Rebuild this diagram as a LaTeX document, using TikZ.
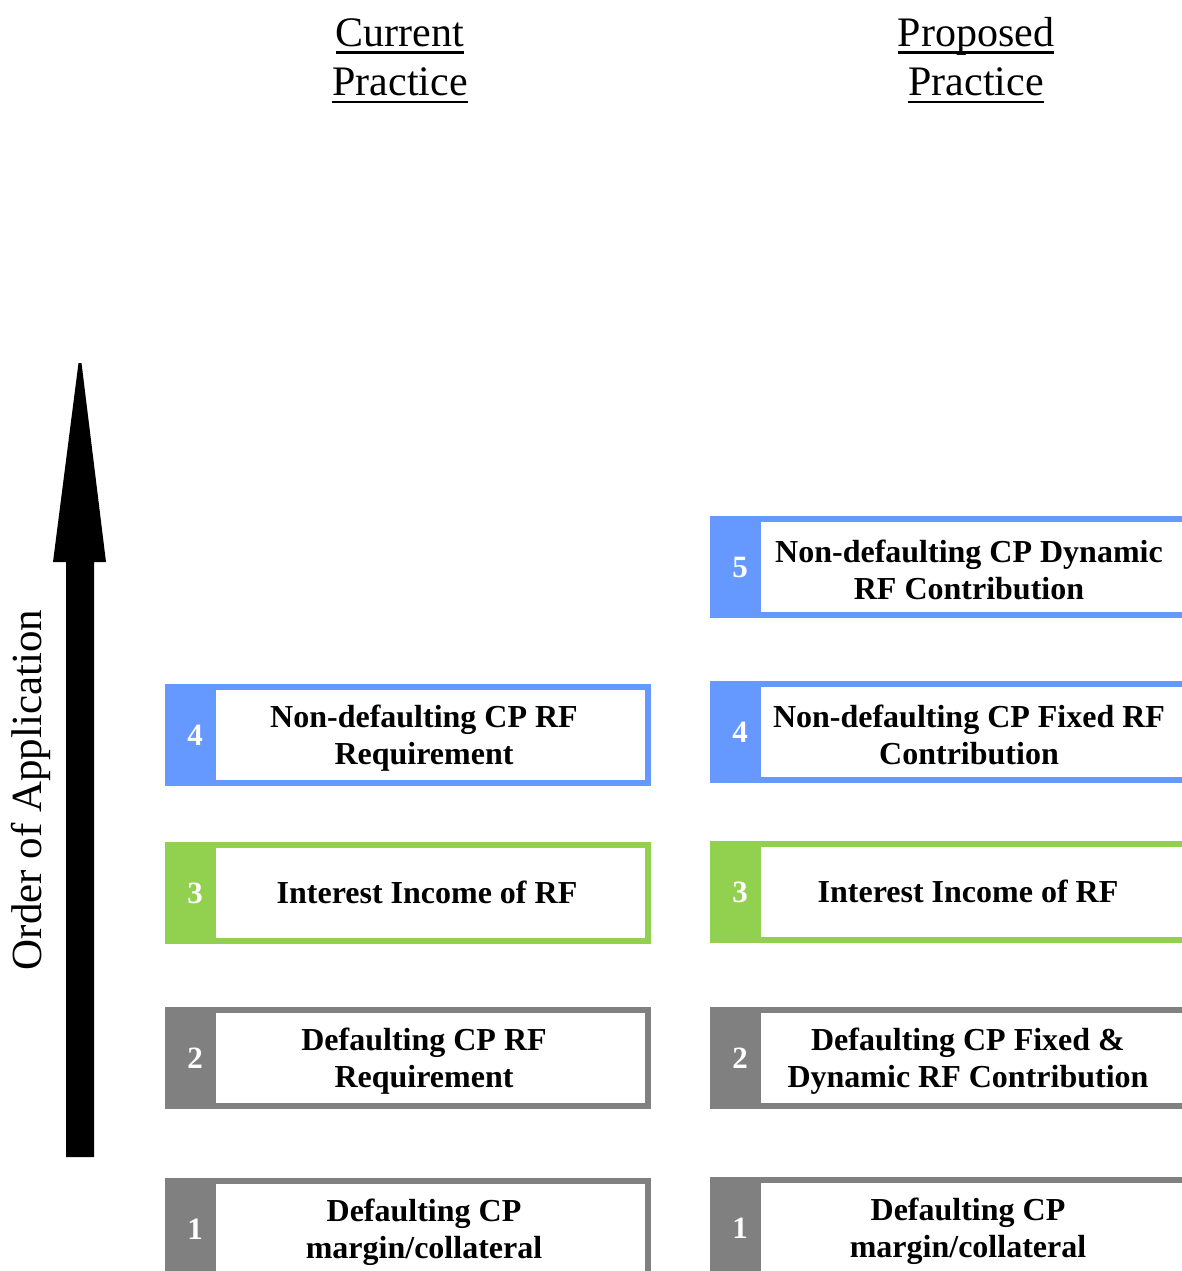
\documentclass[tikz,border=0pt]{standalone}
\usepackage{fontspec}
\setmainfont{Liberation Serif}

\definecolor{rfblue}{HTML}{6699FF}
\definecolor{rfgreen}{HTML}{92D050}
\definecolor{rfgray}{HTML}{808080}

% underlined heading word with a fixed rule position
\newsavebox\ulbox
\newcommand\ulword[1]{\sbox\ulbox{#1}\rlap{\rule[-7pt]{\wd\ulbox}{2.5pt}}\usebox\ulbox}

\tikzset{
  numtext/.style={text=white, inner sep=0pt, font=\fontsize{31}{31}\selectfont\bfseries},
  boxtext/.style={align=center, inner sep=0pt, font=\fontsize{32}{37}\selectfont\bfseries},
  heading/.style={anchor=base, inner sep=0pt, font=\fontsize{42}{48}\selectfont},
}

% #1 name, #2 left x, #3 right x, #4 top y, #5 colour, #6 number, #7 text,
% #8 text centre x, #9 text centre offset from the top
\newcommand\rfbox[9]{%
  \draw[#5, line width=6pt] ({#2+3},{#4+3}) rectangle ({#3-3},{#4+99});
  \fill[#5] (#2,#4) rectangle ({#2+51},{#4+102});
  \node[numtext] (#1n) at ({#2+30},{#4+51}) {#6};
  \node[boxtext] (#1) at (#8,{#4+#9}) {#7};
}

\begin{document}
\begin{tikzpicture}[x=1pt, y=-1pt]
  \useasboundingbox (0,0) rectangle (1182,1271);
  \clip (0,0) rectangle (1182,1271);

  % column headings
  \node[heading] (curA) at (400,47) {\ulword{Current}};
  \node[heading] (curB) at (400,96) {\ulword{Practice}};
  \node[heading] (proA) at (976,47) {\ulword{Proposed}};
  \node[heading] (proB) at (976,96) {\ulword{Practice}};

  % order arrow
  \fill[black] (66,1157) -- (66,562) -- (53,562) -- (78.5,363) -- (81.5,363)
    -- (106,562) -- (94,562) -- (94,1157) -- cycle;
  \node[rotate=90, inner sep=0pt, font=\fontsize{43}{43}\selectfont] (order) at (31,790) {Order of Application};

  % current practice
  \rfbox{c4}{165}{651}{684}{rfblue}{4}{Non-defaulting CP RF\\Requirement}{424}{54}
  \rfbox{c3}{165}{651}{842}{rfgreen}{3}{Interest Income of RF}{427}{50}
  \rfbox{c2}{165}{651}{1007}{rfgray}{2}{Defaulting CP RF\\Requirement}{424}{54}
  \rfbox{c1}{165}{651}{1178}{rfgray}{1}{Defaulting CP\\margin/collateral}{424}{54}

  % proposed practice
  \rfbox{p5}{710}{1190}{516}{rfblue}{5}{Non-defaulting CP Dynamic\\RF Contribution}{969}{54}
  \rfbox{p4}{710}{1190}{681}{rfblue}{4}{Non-defaulting CP Fixed RF\\Contribution}{969}{54}
  \rfbox{p3}{710}{1190}{841}{rfgreen}{3}{Interest Income of RF}{968}{50}
  \rfbox{p2}{710}{1190}{1007}{rfgray}{2}{Defaulting CP Fixed \&\\Dynamic RF Contribution}{968}{54}
  \rfbox{p1}{710}{1190}{1177}{rfgray}{1}{Defaulting CP\\margin/collateral}{968}{54}
\end{tikzpicture}
\end{document}
